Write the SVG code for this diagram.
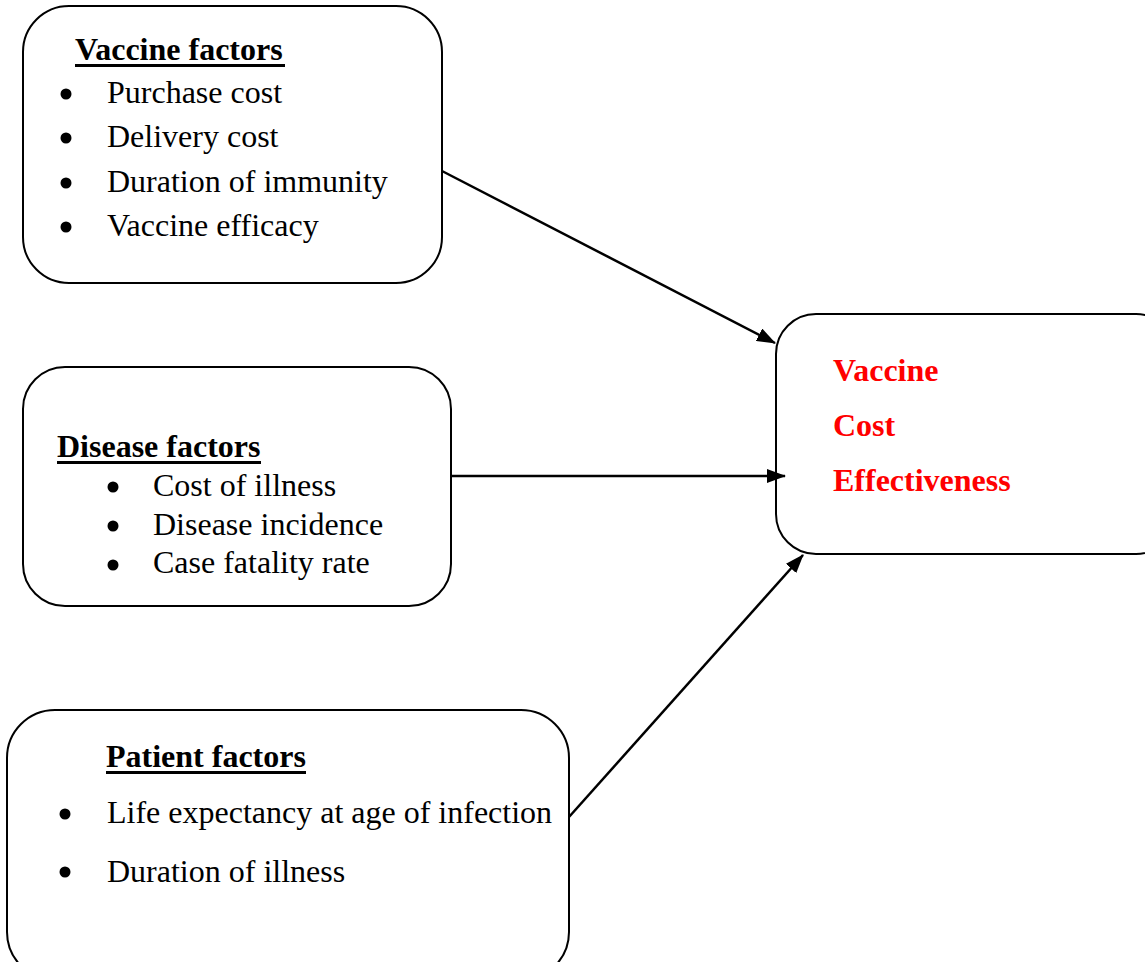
<svg xmlns="http://www.w3.org/2000/svg" width="1145" height="962" viewBox="0 0 1145 962">
<style>
.box{fill:#fff;stroke:#000;stroke-width:2}
.t{font-family:"Liberation Serif","Times New Roman",serif;font-size:32px;fill:#000}
.h{font-family:"Liberation Serif","Times New Roman",serif;font-size:32px;font-weight:bold;fill:#000}
.u{stroke:#000;stroke-width:3}
.r{font-family:"Liberation Serif","Times New Roman",serif;font-size:32px;font-weight:bold;fill:#ff0000}
.c{stroke:#000;stroke-width:2.5;fill:none}
</style>
<defs>
<marker id="ah" markerWidth="19" markerHeight="14" refX="18" refY="7" orient="auto" markerUnits="userSpaceOnUse">
<path d="M0,0 L19,7 L0,14 Z" fill="#000"/>
</marker>
</defs>
<rect width="1145" height="962" fill="#fff"/>
<g id="vaccine-factors">
<rect class="box" x="23" y="6" width="419" height="277" rx="46" ry="46"/>
<text class="h" x="75" y="60">Vaccine factors</text>
<line class="u" x1="75" y1="65.5" x2="285" y2="65.5"/>
<circle cx="66" cy="94" r="5.5"/><text class="t" x="107" y="103">Purchase cost</text>
<circle cx="66" cy="138" r="5.5"/><text class="t" x="107" y="147">Delivery cost</text>
<circle cx="66" cy="183" r="5.5"/><text class="t" x="107" y="192">Duration of immunity</text>
<circle cx="66" cy="227" r="5.5"/><text class="t" x="107" y="236">Vaccine efficacy</text>
</g>
<g id="disease-factors">
<rect class="box" x="23" y="367" width="428" height="239" rx="42" ry="42"/>
<text class="h" x="57" y="457">Disease factors</text>
<line class="u" x1="57" y1="462.5" x2="261" y2="462.5"/>
<circle cx="113" cy="487" r="5.5"/><text class="t" x="153" y="496">Cost of illness</text>
<circle cx="113" cy="526" r="5.5"/><text class="t" x="153" y="535">Disease incidence</text>
<circle cx="113" cy="565" r="5.5"/><text class="t" x="153" y="573">Case fatality rate</text>
</g>
<g id="patient-factors">
<rect class="box" x="7" y="710" width="562" height="270" rx="48" ry="48"/>
<text class="h" x="106" y="767">Patient factors</text>
<line class="u" x1="106" y1="772.5" x2="306" y2="772.5"/>
<circle cx="65" cy="814" r="5.5"/><text class="t" x="107" y="823">Life expectancy at age of infection</text>
<circle cx="65" cy="872" r="5.5"/><text class="t" x="107" y="882">Duration of illness</text>
</g>
<g id="vaccine-cost-effectiveness">
<rect class="box" x="776" y="314" width="400" height="240" rx="40" ry="40"/>
<text class="r" x="833" y="381">Vaccine</text>
<text class="r" x="833" y="436">Cost</text>
<text class="r" x="833" y="491">Effectiveness</text>
</g>
<g id="connectors">
<line class="c" x1="442" y1="171" x2="775" y2="343" marker-end="url(#ah)"/>
<line class="c" x1="451" y1="476" x2="785" y2="476" marker-end="url(#ah)"/>
<line class="c" x1="569" y1="817" x2="803" y2="555" marker-end="url(#ah)"/>
</g>
</svg>
